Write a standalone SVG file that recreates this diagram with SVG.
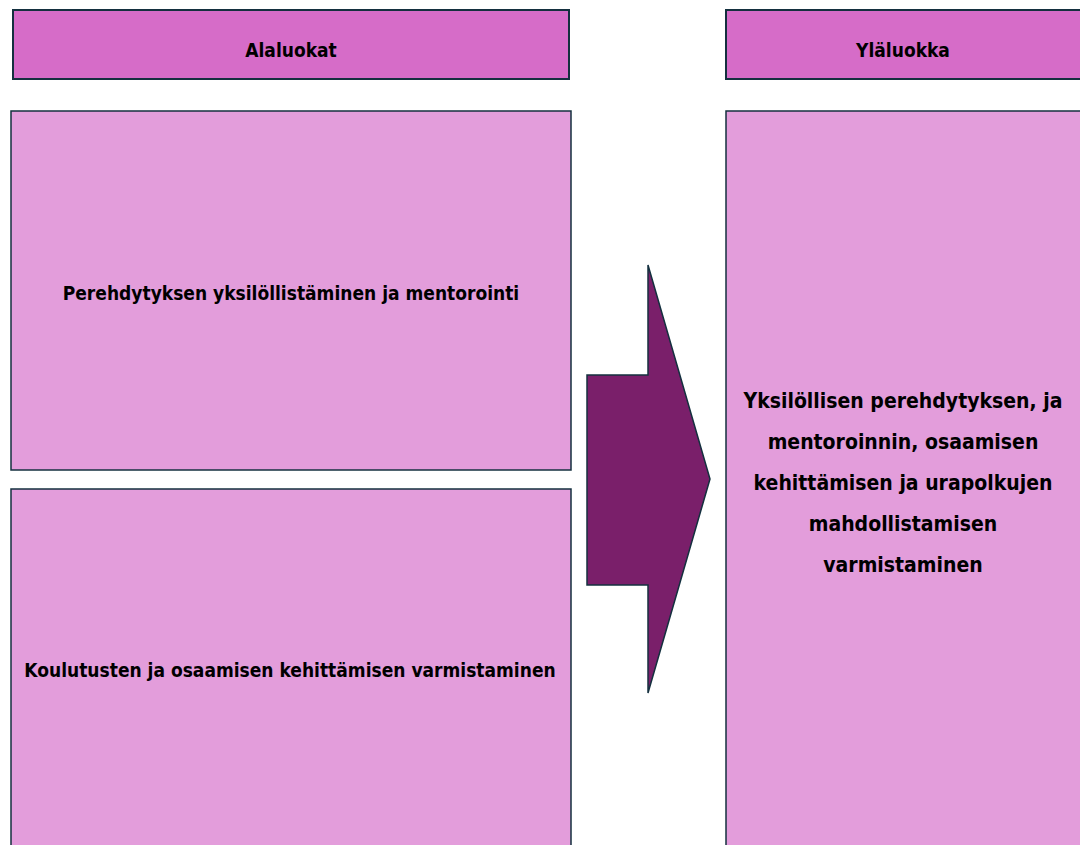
<svg xmlns="http://www.w3.org/2000/svg" width="1080" height="845" viewBox="0 0 1080 845">
<style>
.hdr{fill:#D66CC8;stroke:#14303F;stroke-width:2}
.box{fill:#E39DDB;stroke:#14303F;stroke-width:1.5}
.t{font-family:"DejaVu Sans Condensed","DejaVu Sans",sans-serif;font-weight:bold;fill:#000;text-anchor:middle}
.s{font-size:19px}
.l{font-size:21px}
</style>
<rect width="1080" height="845" fill="#fff"/>
<g id="hdr-left"><rect class="hdr" x="13" y="10" width="556" height="69"/><text class="t s" x="291" y="57">Alaluokat</text></g>
<g id="hdr-right"><rect class="hdr" x="726" y="10" width="360" height="69"/><text class="t s" x="903" y="57">Yläluokka</text></g>
<g id="sub1"><rect class="box" x="11" y="111" width="560" height="359"/><text class="t s" x="291" y="300">Perehdytyksen yksilöllistäminen ja mentorointi</text></g>
<g id="sub2"><rect class="box" x="11" y="489" width="560" height="370"/><text class="t s" x="290" y="677">Koulutusten ja osaamisen kehittämisen varmistaminen</text></g>
<g id="main"><rect class="box" x="726" y="111" width="360" height="748"/>
<text class="t l" x="903" y="408">Yksilöllisen perehdytyksen, ja</text>
<text class="t l" x="903" y="449">mentoroinnin, osaamisen</text>
<text class="t l" x="903" y="490">kehittämisen ja urapolkujen</text>
<text class="t l" x="903" y="531">mahdollistamisen</text>
<text class="t l" x="903" y="572">varmistaminen</text></g>
<g id="connectors"><polygon points="587,375 648,375 648,265 710,479 648,693 648,585 587,585" fill="#7A1F6A" stroke="#14303F" stroke-width="1.5"/></g>
</svg>
